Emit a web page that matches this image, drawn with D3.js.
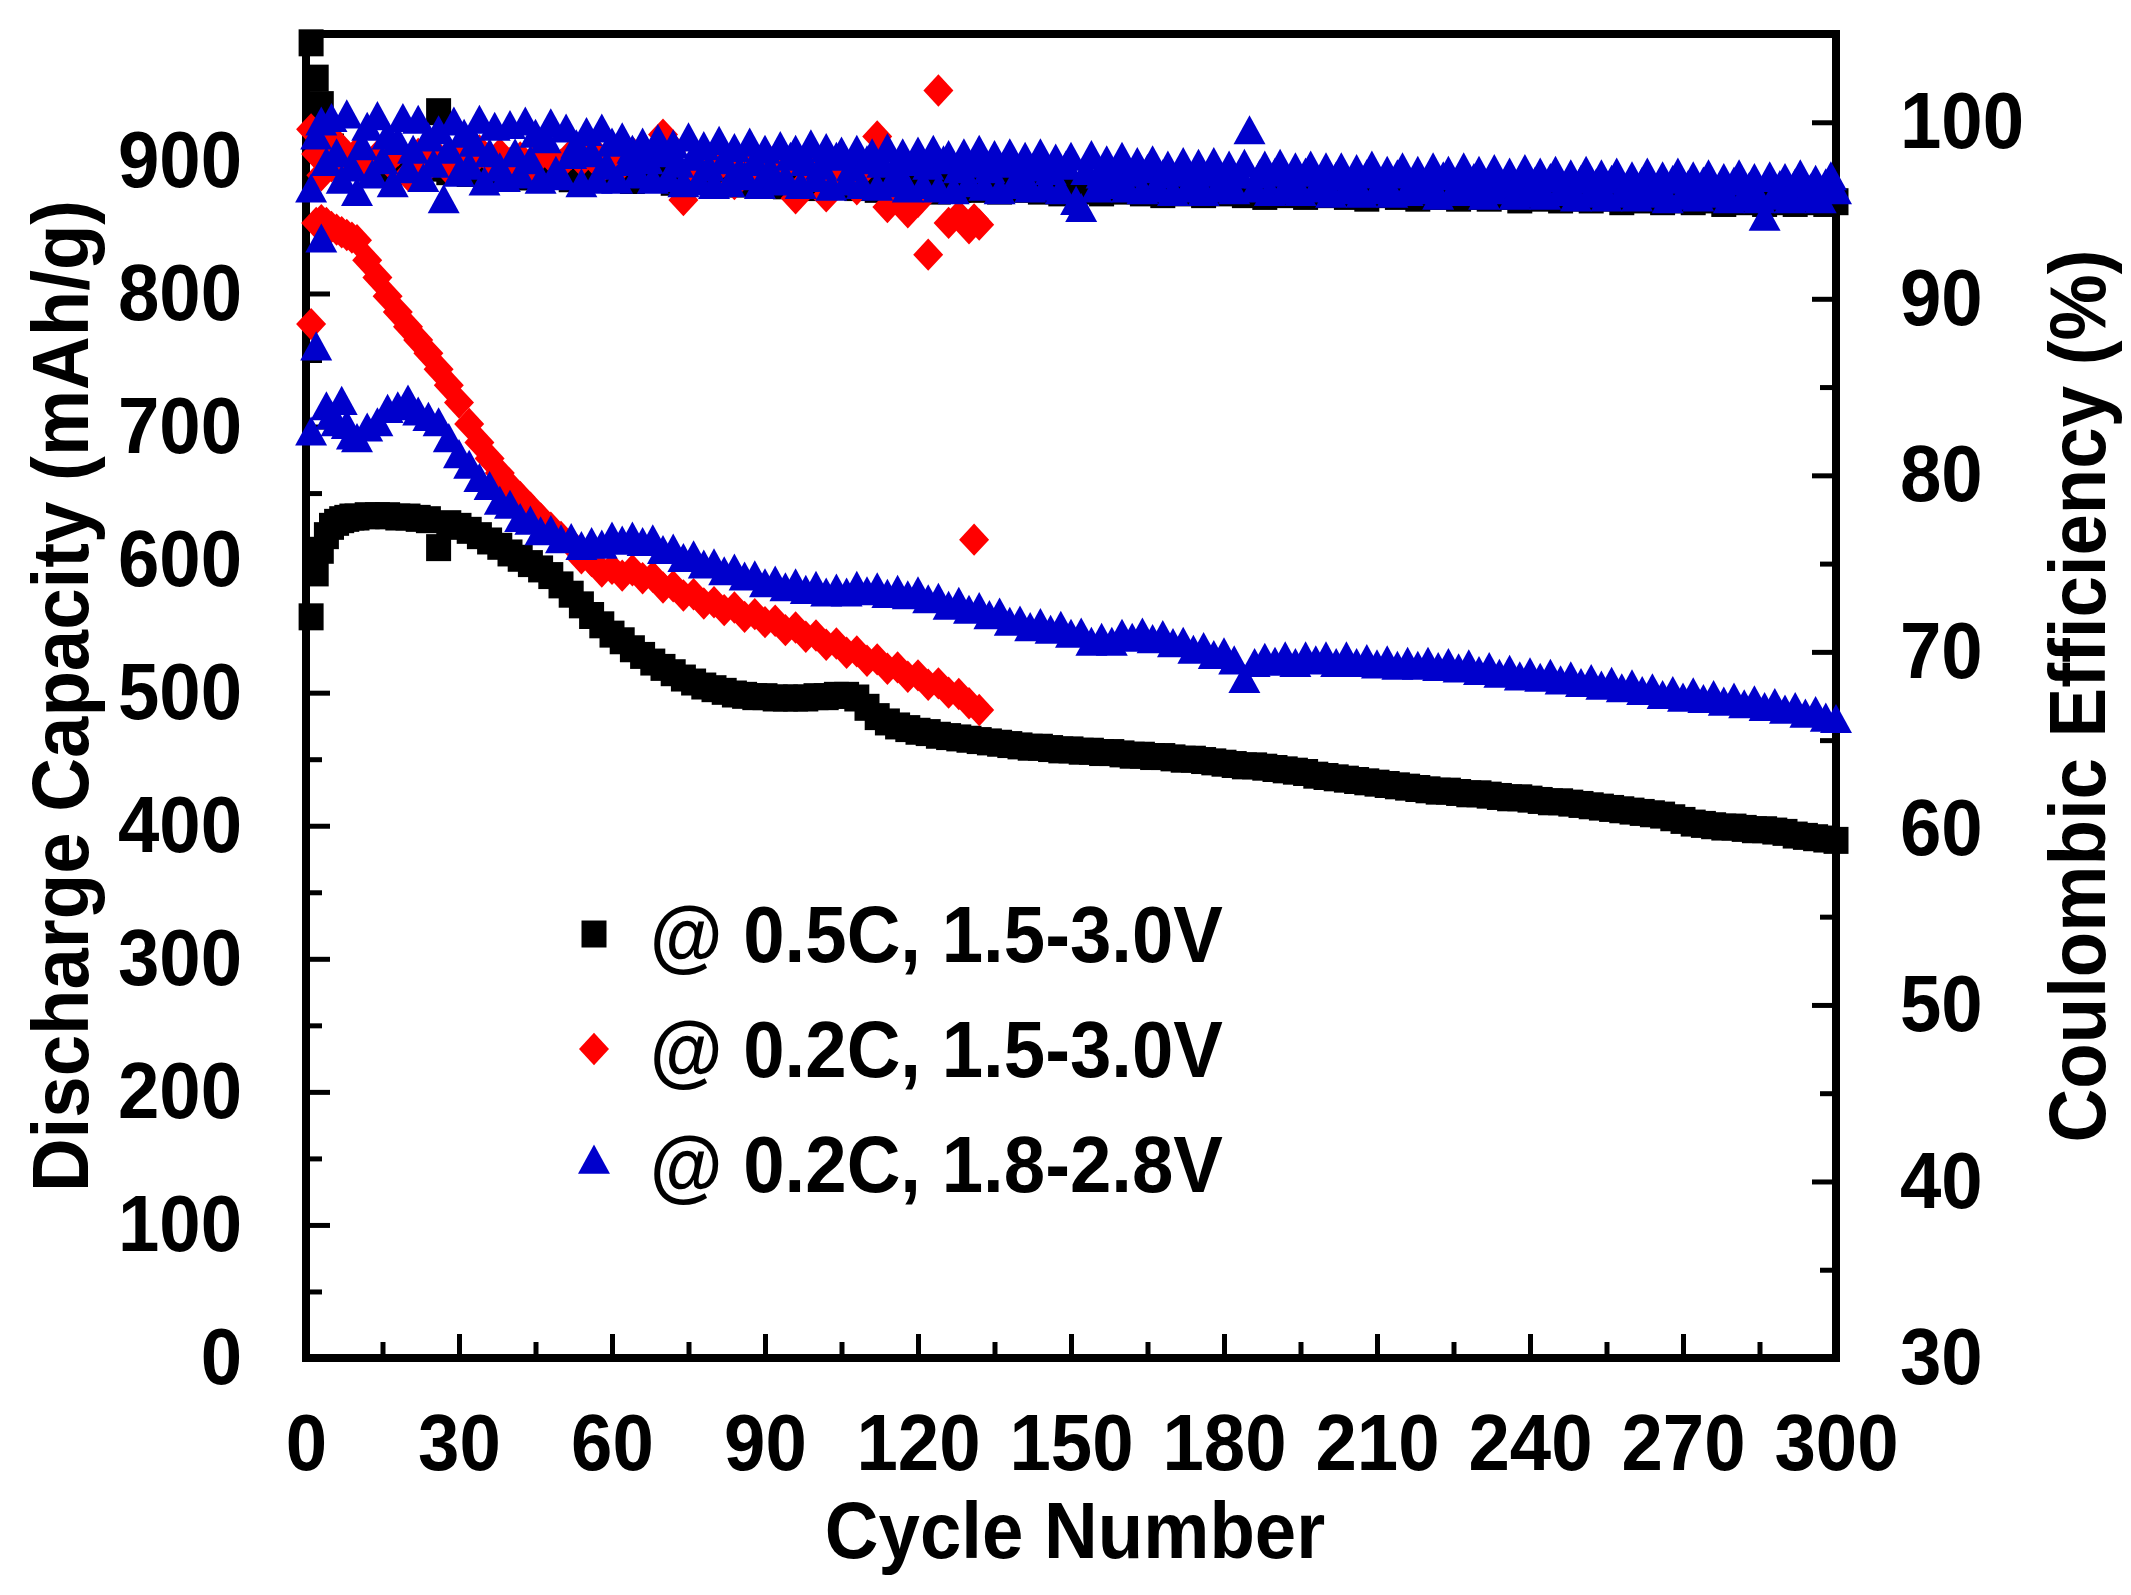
<!DOCTYPE html>
<html lang="en">
<head>
<meta charset="utf-8">
<title>Discharge capacity and coulombic efficiency</title>
<script src="https://cdn.jsdelivr.net/npm/d3@7"></script>
<style>
  body { margin: 0; background: #fff; }
  svg text { font-family: "Liberation Sans", Arial, Helvetica, sans-serif; font-weight: bold; }
</style>
</head>
<body>
<div id="viz"></div>
<script>

// DATA
// cycle numbers used for the capacity points and the 0.5C efficiency points
var cycles = [
  1, 2, 3, 4, 5, 6, 7, 8, 9, 10,
  12, 14, 16, 18, 20, 22, 24, 26, 28, 30,
  32, 34, 36, 38, 40, 42, 44, 46, 48, 50,
  52, 54, 56, 58, 60, 62, 64, 66, 68, 70,
  72, 74, 76, 78, 80, 82, 84, 86, 88, 90,
  92, 94, 96, 98, 100, 102, 104, 106, 108, 110,
  112, 114, 116, 118, 120, 122, 124, 126, 128, 130,
  132, 134, 136, 138, 140, 142, 144, 146, 148, 150,
  152, 154, 156, 158, 160, 162, 164, 166, 168, 170,
  172, 174, 176, 178, 180, 182, 184, 186, 188, 190,
  192, 194, 196, 198, 200, 202, 204, 206, 208, 210,
  212, 214, 216, 218, 220, 222, 224, 226, 228, 230,
  232, 234, 236, 238, 240, 242, 244, 246, 248, 250,
  252, 254, 256, 258, 260, 262, 264, 266, 268, 270,
  272, 274, 276, 278, 280, 282, 284, 286, 288, 290,
  292, 294, 296, 298, 300
];

// every cycle, for the blue efficiency band
var ceCycles = [
  1, 2, 3, 4, 5, 6, 7, 8, 9, 10, 11, 12, 13, 14, 15, 16, 17, 18, 19, 20,
  21, 22, 23, 24, 25, 26, 27, 28, 29, 30, 31, 32, 33, 34, 35, 36, 37, 38, 39, 40,
  41, 42, 43, 44, 45, 46, 47, 48, 49, 50, 51, 52, 53, 54, 55, 56, 57, 58, 59, 60,
  61, 62, 63, 64, 65, 66, 67, 68, 69, 70, 71, 72, 73, 74, 75, 76, 77, 78, 79, 80,
  81, 82, 83, 84, 85, 86, 87, 88, 89, 90, 91, 92, 93, 94, 95, 96, 97, 98, 99, 100,
  101, 102, 103, 104, 105, 106, 107, 108, 109, 110, 111, 112, 113, 114, 115, 116, 117, 118, 119, 120,
  121, 122, 123, 124, 125, 126, 127, 128, 129, 130, 131, 132, 133, 134, 135, 136, 137, 138, 139, 140,
  141, 142, 143, 144, 145, 146, 147, 148, 149, 150, 151, 152, 153, 154, 155, 156, 157, 158, 159, 160,
  161, 162, 163, 164, 165, 166, 167, 168, 169, 170, 171, 172, 173, 174, 175, 176, 177, 178, 179, 180,
  181, 182, 183, 184, 185, 186, 187, 188, 189, 190, 191, 192, 193, 194, 195, 196, 197, 198, 199, 200,
  201, 202, 203, 204, 205, 206, 207, 208, 209, 210, 211, 212, 213, 214, 215, 216, 217, 218, 219, 220,
  221, 222, 223, 224, 225, 226, 227, 228, 229, 230, 231, 232, 233, 234, 235, 236, 237, 238, 239, 240,
  241, 242, 243, 244, 245, 246, 247, 248, 249, 250, 251, 252, 253, 254, 255, 256, 257, 258, 259, 260,
  261, 262, 263, 264, 265, 266, 267, 268, 269, 270, 271, 272, 273, 274, 275, 276, 277, 278, 279, 280,
  281, 282, 283, 284, 285, 286, 287, 288, 289, 290, 291, 292, 293, 294, 295, 296, 297, 298, 299, 300
];

// @ 0.5C, 1.5-3.0V  (black squares)
var blackCap = [
  557, 590, 607, 618, 625, 628, 630, 631, 632, 632,
  633, 633, 633, 632, 632, 631, 630, 609, 627, 625,
  622, 618, 614, 610, 605, 601, 597, 593, 588, 581,
  574, 566, 558, 551, 544, 539, 533, 528, 523, 519,
  515, 511, 508, 505, 503, 501, 499, 498, 497, 497,
  496, 496, 496, 496, 497, 497, 498, 498, 496, 489,
  482, 478, 475, 473, 471, 470, 468, 467, 466, 465,
  464, 463, 462, 461, 460, 459, 459, 458, 457, 457,
  456, 456, 455, 455, 454, 453, 453, 452, 452, 451,
  450, 450, 449, 448, 447, 446, 445, 445, 444, 443,
  442, 441, 440, 438, 437, 436, 435, 434, 433, 432,
  431, 430, 429, 428, 427, 426, 426, 425, 424, 424,
  423, 422, 421, 421, 420, 419, 418, 418, 417, 416,
  415, 414, 413, 412, 411, 410, 409, 408, 406, 404,
  402, 401, 400, 399, 399, 398, 397, 397, 396, 395,
  393, 392, 391, 390, 389
];
var blackCE = [
  104.5, 102.5, 101.0, 99.6, 98.6, 98.0, 97.6, 97.8, 97.5, 97.6,
  97.4, 97.7, 97.3, 97.6, 97.2, 97.5, 97.4, 100.6, 97.2, 97.5,
  97.1, 97.4, 97.0, 97.3, 97.0, 97.2, 96.9, 97.2, 97.0, 97.1,
  96.8, 97.1, 96.9, 97.0, 96.8, 97.0, 96.7, 96.9, 96.8, 96.9,
  96.6, 96.8, 96.7, 96.8, 96.6, 96.7, 96.5, 96.7, 96.6, 96.5,
  96.7, 96.4, 96.6, 96.5, 96.3, 96.6, 96.4, 96.5, 96.3, 96.4,
  96.2, 96.5, 96.3, 96.4, 96.2, 96.3, 96.1, 96.4, 96.2, 96.3,
  96.2, 96.3, 96.1, 96.4, 96.2, 96.3, 96.1, 96.2, 96.0, 96.3,
  96.1, 96.2, 96.0, 96.3, 96.1, 96.2, 96.0, 96.1, 95.9, 96.2,
  96.0, 96.1, 95.9, 96.2, 96.0, 96.1, 95.9, 96.0, 95.8, 96.1,
  95.9, 96.0, 95.8, 96.1, 95.9, 96.0, 95.8, 95.9, 95.7, 96.0,
  95.9, 95.8, 96.0, 95.7, 95.9, 95.8, 95.9, 95.7, 95.8, 95.9,
  95.7, 95.8, 95.9, 95.6, 95.8, 95.7, 95.8, 95.6, 95.7, 95.8,
  95.6, 95.7, 95.8, 95.5, 95.7, 95.6, 95.7, 95.5, 95.6, 95.7,
  95.5, 95.6, 95.7, 95.4, 95.6, 95.5, 95.6, 95.4, 95.5, 95.6,
  95.4, 95.5, 95.6, 95.4, 95.5
];

// @ 0.2C, 1.8-2.8V  (blue triangles)
var blueCap = [
  693, 757, 838, 712, 705, 700, 716, 698, 690, 688,
  696, 700, 710, 712, 717, 708, 704, 700, 688, 676,
  668, 658, 652, 641, 638, 628, 626, 618, 619, 612,
  613, 607, 610, 608, 614, 611, 614, 610, 612, 604,
  605, 598, 600, 593, 594, 588, 590, 584, 585, 579,
  581, 576, 579, 574, 577, 572, 575, 572, 577, 573,
  576, 571, 574, 570, 573, 567, 568, 562, 565, 559,
  561, 555, 557, 550, 551, 546, 549, 544, 547, 541,
  542, 535, 538, 535, 541, 538, 542, 537, 540, 534,
  535, 529, 531, 525, 527, 521, 507, 519, 523, 520,
  524, 519, 524, 521, 524, 519, 524, 519, 522, 518,
  521, 517, 520, 517, 520, 516, 519, 515, 518, 513,
  516, 511, 514, 509, 512, 508, 511, 506, 509, 504,
  507, 502, 505, 500, 503, 498, 500, 495, 498, 493,
  497, 492, 495, 490, 493, 488, 491, 486, 489, 484,
  486, 481, 483, 478, 477
];
var blueCE = [
  96.0, 99.0, 99.8, 97.5, 100.0, 98.0, 96.5, 100.2, 97.2, 95.8, 98.4, 99.5, 96.8, 100.1, 97.6, 99.0, 96.3, 98.7, 100.0, 97.1,
  98.2, 99.9, 96.6, 98.9, 97.4, 99.3, 95.4, 98.2, 99.8, 96.9, 99.1, 97.3, 98.6, 99.9, 96.4, 98.0, 99.5, 97.2, 96.6, 99.6,
  98.0, 96.8, 99.8, 97.6, 99.1, 96.5, 98.8, 99.7, 97.0, 96.7, 99.4, 97.9, 98.5, 96.3, 99.2, 98.0, 96.5, 99.4, 97.3, 98.6,
  96.5, 98.9, 97.5, 98.2, 96.8, 98.6, 97.6, 96.5, 98.8, 98.0, 96.6, 98.5, 97.4, 96.3, 98.9, 97.8, 96.4, 98.4, 97.2, 96.2,
  98.7, 97.6, 96.3, 98.3, 97.0, 96.7, 98.6, 97.5, 96.2, 98.2, 97.1, 96.4, 98.4, 96.6, 97.8, 98.2, 96.2, 97.5, 98.5, 96.6,
  97.3, 98.3, 96.1, 97.8, 98.1, 96.4, 97.2, 98.2, 96.2, 97.6, 98.0, 96.1, 97.4, 98.3, 96.3, 97.0, 98.0, 96.0, 97.5, 98.1,
  96.2, 97.3, 98.2, 96.0, 97.6, 97.9, 95.9, 97.1, 98.0, 96.3, 97.4, 98.2, 96.1, 97.1, 97.9, 95.9, 97.4, 98.0, 96.2, 96.9,
  97.8, 96.0, 97.2, 98.0, 96.1, 97.0, 97.7, 95.9, 97.3, 97.8, 95.3, 94.9, 97.0, 97.9, 96.0, 96.8, 97.6, 96.2, 97.1, 97.8,
  96.0, 96.9, 97.5, 95.9, 97.1, 97.6, 96.0, 96.8, 97.3, 95.8, 96.9, 97.5, 96.0, 96.6, 97.4, 95.8, 96.9, 97.5, 96.0, 96.7,
  97.3, 95.9, 96.8, 97.4, 99.3, 96.0, 96.8, 97.3, 95.8, 96.9, 97.4, 95.9, 96.6, 97.2, 95.8, 96.9, 97.3, 96.0, 96.5, 97.2,
  95.7, 96.7, 97.2, 95.9, 96.5, 97.1, 95.7, 96.8, 97.3, 95.9, 96.4, 97.0, 95.7, 96.8, 97.2, 95.8, 96.4, 97.0, 95.9, 96.6,
  97.2, 95.6, 96.7, 97.0, 95.8, 96.4, 97.2, 95.8, 96.6, 97.0, 95.6, 96.5, 97.1, 95.9, 96.3, 96.9, 95.6, 96.5, 97.1, 95.7,
  96.4, 96.9, 95.6, 96.6, 97.0, 95.8, 96.2, 96.8, 95.5, 96.5, 97.0, 95.7, 96.3, 96.8, 95.5, 96.5, 96.9, 95.7, 96.1, 96.7,
  95.5, 96.4, 96.9, 95.7, 96.1, 96.7, 95.4, 96.5, 96.9, 95.6, 96.2, 96.7, 95.5, 96.4, 96.8, 95.7, 96.0, 96.6, 95.4, 96.4,
  96.8, 95.5, 96.1, 96.6, 95.4, 94.4, 96.7, 95.6, 96.2, 96.6, 95.4, 96.3, 96.8, 95.5, 96.0, 96.5, 95.4, 96.3, 96.7, 95.9
];

// @ 0.2C, 1.5-3.0V  (red diamonds), stops near cycle 132
var redCycles = [
  1, 2, 3, 4, 5, 6, 7, 8, 9, 10,
  12, 14, 16, 18, 20, 22, 24, 26, 28, 30,
  32, 34, 36, 38, 40, 42, 44, 46, 48, 50,
  52, 54, 56, 58, 60, 62, 64, 66, 68, 70,
  72, 74, 76, 78, 80, 82, 84, 86, 88, 90,
  92, 94, 96, 98, 100, 102, 104, 106, 108, 110,
  112, 114, 116, 118, 120, 122, 124, 126, 128, 130,
  131, 132
];
var redCap = [
  777, 853, 855, 853, 850, 848, 846, 844, 842, 840,
  825, 812, 798, 786, 775, 765, 755, 743, 731, 718,
  702, 688, 676, 665, 655, 647, 639, 631, 624, 617,
  612, 601, 599, 591, 593, 588, 592, 586, 587, 579,
  580, 573, 574, 567, 568, 562, 564, 557, 559, 553,
  554, 547, 549, 542, 543, 536, 537, 530, 531, 524,
  525, 518, 519, 512, 513, 506, 507, 500, 499, 492,
  615, 487
];
var redCE = [
  99.6, 98.2, 97.0, 98.6, 97.5, 98.8, 97.2, 98.0, 97.6, 98.3,
  97.4, 98.1, 97.8, 98.4, 97.0, 98.2, 97.5, 98.0, 97.3, 98.1,
  97.6, 98.4, 97.9, 98.2, 97.7, 98.0, 97.5, 98.3, 98.0, 97.6,
  98.2, 97.8, 98.5, 97.4, 98.0, 97.6, 98.3, 97.9, 98.1, 99.3,
  98.5, 95.6, 97.4, 98.0, 97.2, 97.8, 96.5, 97.5, 96.9, 98.1,
  97.0, 97.5, 95.7, 96.6, 97.4, 95.8, 96.8, 97.3, 96.2, 97.5,
  99.2, 95.2, 96.0, 94.9, 95.5, 92.5, 101.8, 94.3, 94.7, 94.0,
  94.5, 94.2
];

// ticks
var xTicks = [0, 30, 60, 90, 120, 150, 180, 210, 240, 270, 300];
var xMinor = [15, 45, 75, 105, 135, 165, 195, 225, 255, 285];
var capTicks = [0, 100, 200, 300, 400, 500, 600, 700, 800, 900];
var capMinor = [50, 150, 250, 350, 450, 550, 650, 750, 850, 950];
var ceTicks = [30, 40, 50, 60, 70, 80, 90, 100];
var ceMinor = [35, 45, 55, 65, 75, 85, 95];

var legendLabels = ["@ 0.5C, 1.5-3.0V", "@ 0.2C, 1.5-3.0V", "@ 0.2C, 1.8-2.8V"];


// DIMENSIONS
var W = 2131, H = 1595;
var plot = {left: 306, right: 1836, top: 34, bottom: 1358};
var fontSize = 80;
var squeeze = 0.93;   // the figure's font is a little narrow

var svg = d3.select("#viz")
  .append("svg")
  .attr("width", W)
  .attr("height", H)
  .style("background", "#fff");

// SCALES
var x = d3.scaleLinear().domain([0, 300]).range([plot.left, plot.right]);
var yCap = d3.scaleLinear().domain([0, 995]).range([plot.bottom, plot.top]);
var yCE = d3.scaleLinear().domain([30, 105]).range([plot.bottom, plot.top]);

// FRAME
svg.append("rect")
  .attr("x", plot.left)
  .attr("y", plot.top)
  .attr("width", plot.right - plot.left)
  .attr("height", plot.bottom - plot.top)
  .attr("fill", "none")
  .attr("stroke", "#000")
  .attr("stroke-width", 8);

// AXES
function styleAxis(g, labelX) {
  g.attr("font-size", fontSize)
    .attr("font-family", "'Liberation Sans', Arial, sans-serif");
  g.select(".domain").remove();
  g.selectAll(".tick line").attr("stroke", "#000").attr("stroke-width", 5);
  g.selectAll(".tick text")
    .attr("fill", "#000")
    .attr("font-weight", "bold")
    .attr("transform", "scale(" + squeeze + ",1)");
  if (labelX != null) g.selectAll(".tick text").attr("x", labelX / squeeze);
}

var gx = svg.append("g").attr("transform", "translate(0," + plot.bottom + ")");
gx.append("g").call(d3.axisBottom(x).tickValues(xMinor).tickSize(-16).tickFormat(""))
  .call(styleAxis);
gx.append("g").call(d3.axisBottom(x).tickValues(xTicks).tickSize(-24).tickPadding(55).tickFormat(d3.format("d")))
  .call(styleAxis);

var gl = svg.append("g").attr("transform", "translate(" + plot.left + ",0)");
gl.append("g").call(d3.axisLeft(yCap).tickValues(capMinor).tickSize(-16).tickFormat(""))
  .call(styleAxis);
gl.append("g").call(d3.axisLeft(yCap).tickValues(capTicks).tickSize(-24).tickPadding(64).tickFormat(d3.format("d")))
  .call(function(g) { styleAxis(g, -64); });

var gr = svg.append("g").attr("transform", "translate(" + plot.right + ",0)");
gr.append("g").call(d3.axisRight(yCE).tickValues(ceMinor).tickSize(-16).tickFormat(""))
  .call(styleAxis);
gr.append("g").call(d3.axisRight(yCE).tickValues(ceTicks).tickSize(-24).tickPadding(64).tickFormat(d3.format("d")))
  .call(function(g) { styleAxis(g, 64); });

// MARKERS
var shapes = {
  square:   {type: d3.symbolSquare,   size: 625, tf: "scale(1,1.08)"},
  diamond:  {type: d3.symbolSquare,   size: 450, tf: "scale(1,1.08) rotate(45)"},
  triangle: {type: d3.symbolTriangle, size: 443, tf: "scale(1,1.05)"}
};

var series = [
  {label: legendLabels[0], color: "#000000", shape: "square",
   capCyc: cycles, cap: blackCap, ceCyc: cycles, ce: blackCE},
  {label: legendLabels[1], color: "#ff0000", shape: "diamond",
   capCyc: redCycles, cap: redCap, ceCyc: redCycles, ce: redCE},
  {label: legendLabels[2], color: "#0000cc", shape: "triangle",
   capCyc: cycles, cap: blueCap, ceCyc: ceCycles, ce: blueCE}
];

var marks = svg.append("g").attr("class", "marks");

series.forEach(function(s) {
  var sh = shapes[s.shape];
  var sym = d3.symbol().type(sh.type).size(sh.size);
  var capPts = s.capCyc.map(function(c, i) { return {c: c, v: s.cap[i]}; });
  var cePts = s.ceCyc.map(function(c, i) { return {c: c, v: s.ce[i]}; });
  var g = marks.append("g").attr("fill", s.color);

  g.selectAll("path.cap")
    .data(capPts)
    .enter()
    .append("path")
    .attr("class", "cap")
    .attr("d", sym)
    .attr("transform", function(d) { return "translate(" + x(d.c) + "," + yCap(d.v) + ") " + sh.tf; });

  g.selectAll("path.ce")
    .data(cePts)
    .enter()
    .append("path")
    .attr("class", "ce")
    .attr("d", sym)
    .attr("transform", function(d) { return "translate(" + x(d.c) + "," + yCE(d.v) + ") " + sh.tf; });
});

// LEGEND
var legendY = d3.scalePoint().domain(legendLabels).range([934, 1164]);
var legend = svg.append("g").attr("class", "legend");

series.forEach(function(s) {
  var sh = shapes[s.shape];
  var yy = legendY(s.label);
  legend.append("path")
    .attr("d", d3.symbol().type(sh.type).size(sh.size))
    .attr("fill", s.color)
    .attr("transform", "translate(594," + yy + ") " + sh.tf);
  legend.append("text")
    .attr("transform", "translate(650," + yy + ") scale(" + squeeze + ",1)")
    .attr("dy", "0.35em")
    .attr("font-size", fontSize)
    .attr("fill", "#000")
    .text(s.label);
});

// TITLES
var midY = (plot.top + plot.bottom) / 2;

svg.append("text")
  .attr("transform", "translate(1075,1558) scale(" + squeeze + ",1)")
  .attr("text-anchor", "middle")
  .attr("font-size", fontSize)
  .text("Cycle Number");

svg.append("text")
  .attr("transform", "translate(88," + midY + ") rotate(-90) scale(" + squeeze + ",1)")
  .attr("text-anchor", "middle")
  .attr("font-size", fontSize)
  .text("Discharge Capacity (mAh/g)");

svg.append("text")
  .attr("transform", "translate(2105," + midY + ") rotate(-90) scale(" + squeeze + ",1)")
  .attr("text-anchor", "middle")
  .attr("font-size", fontSize)
  .text("Coulombic Efficiency (%)");

</script>
</body>
</html>
